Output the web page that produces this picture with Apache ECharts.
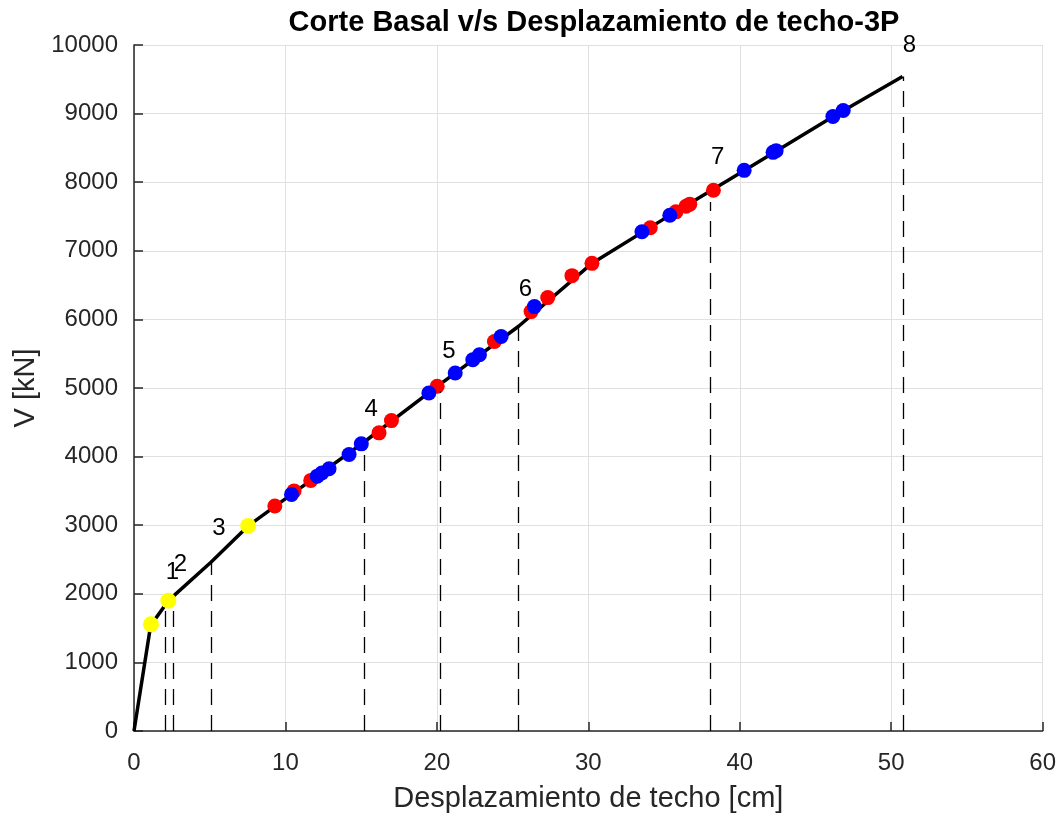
<!DOCTYPE html>
<html>
<head>
<meta charset="utf-8">
<script src="https://cdn.jsdelivr.net/npm/echarts@6/dist/echarts.min.js"></script>
<style>
html,body{margin:0;padding:0;background:#fff;}
#chart{width:1059px;height:818px;}
</style>
</head>
<body>
<div id="chart"></div>
<script>
// Pushover curve (displacement cm, base shear kN)
const curveX = [0, 1.1, 2.27, 5.08, 7.54, 10.4, 15.0, 20.0, 25.4, 30.2, 35.4, 40.3, 46.2, 50.75];
const curveY = [0, 1540, 1900, 2460, 2990, 3450, 4180, 5020, 5900, 6810, 7520, 8170, 8960, 9540];

// Yellow markers
const yellowX = [1.12, 2.27, 7.54];
const yellowY = [1555, 1900, 2990];

// Red markers
const redX = [9.30, 10.57, 11.67, 16.18, 17.0, 20.02, 23.80, 26.22, 27.32, 28.92, 30.24, 34.09, 35.78, 36.45, 36.70, 38.26];
const redY = [3280, 3500, 3653, 4346, 4525, 5025, 5678, 6114, 6318, 6638, 6817, 7335, 7568, 7650, 7680, 7882];

// Blue markers
const blueX = [10.40, 12.10, 12.40, 12.88, 14.20, 15.01, 19.47, 21.21, 22.37, 22.81, 24.24, 26.44, 33.54, 35.38, 40.29, 42.20, 42.40, 46.15, 46.83];
const blueY = [3449, 3715, 3760, 3823, 4031, 4186, 4927, 5218, 5411, 5484, 5751, 6187, 7277, 7519, 8173, 8435, 8460, 8958, 9045];

// Vertical dashed lines (performance points)
const dashX = [2.04, 2.57, 5.08, 15.23, 20.24, 25.38, 38.04, 50.77];
const dashTop = [1780, 1850, 2456, 4200, 4952, 5872, 7713, 9540];

// Point labels
const labelText = ['1', '2', '3', '4', '5', '6', '7', '8'];
const labelX = [2.54, 3.07, 5.60, 15.66, 20.80, 25.85, 38.54, 51.20];
const labelY = [2311, 2427, 2950, 4688, 5531, 6439, 8358, 9990];

// Axis ticks
const xTicks = [0, 10, 20, 30, 40, 50, 60];
const yTicks = [0, 1000, 2000, 3000, 4000, 5000, 6000, 7000, 8000, 9000, 10000];

const zip = (a, b) => a.map((v, i) => [v, b[i]]);
const FONT = 'Liberation Sans, Arial, Helvetica, sans-serif';
const AX = '#262626';

const chart = echarts.init(document.getElementById('chart'));
chart.setOption({
  backgroundColor: '#ffffff',
  animation: false,
  title: {
    text: 'Corte Basal v/s Desplazamiento de techo-3P',
    left: 589, textAlign: 'center', top: 3,
    textStyle: { fontFamily: FONT, fontSize: 29, fontWeight: 'bold', color: '#000' }
  },
  grid: { left: 134, right: 16, top: 45, bottom: 85 },
  xAxis: {
    type: 'value', min: xTicks[0], max: xTicks[xTicks.length - 1], interval: 10,
    name: 'Desplazamiento de techo [cm]', nameLocation: 'middle', nameGap: 53,
    nameTextStyle: { fontFamily: FONT, fontSize: 29, color: AX },
    axisLine: { show: true, onZero: false, lineStyle: { color: AX, width: 1.5 } },
    axisTick: { show: true, inside: true, length: 9, lineStyle: { color: AX, width: 1.5 } },
    axisLabel: { fontFamily: FONT, fontSize: 24, color: AX, margin: 20, formatter: v => String(v) },
    splitLine: { show: true, lineStyle: { color: '#e0e0e0', width: 1 } }
  },
  yAxis: {
    type: 'value', min: yTicks[0], max: yTicks[yTicks.length - 1], interval: 1000,
    name: 'V [kN]', nameLocation: 'middle', nameGap: 93,
    nameTextStyle: { fontFamily: FONT, fontSize: 29, color: AX },
    axisLine: { show: true, onZero: false, lineStyle: { color: AX, width: 1.5 } },
    axisTick: { show: true, inside: true, length: 9, lineStyle: { color: AX, width: 1.5 } },
    axisLabel: { fontFamily: FONT, fontSize: 24, color: AX, margin: 16, formatter: v => String(v) },
    splitLine: { show: true, lineStyle: { color: '#e0e0e0', width: 1 } }
  },
  series: [
    {
      type: 'line', data: zip(curveX, curveY), symbol: 'none', z: 3,
      lineStyle: { color: '#000', width: 3.5 },
      markLine: {
        silent: true, symbol: ['none', 'none'], label: { show: false },
        lineStyle: { color: '#000', width: 1.3, type: [16, 10] },
        data: dashX.map((x, i) => [{ coord: [x, 0] }, { coord: [x, dashTop[i]] }])
      }
    },
    {
      type: 'scatter', data: zip(yellowX, yellowY), symbol: 'circle', symbolSize: 16, z: 4,
      itemStyle: { color: '#ffff00', opacity: 1 }
    },
    {
      type: 'scatter', data: zip(redX, redY), symbol: 'circle', symbolSize: 15, z: 4,
      itemStyle: { color: '#ff0000', opacity: 1 }
    },
    {
      type: 'scatter', data: zip(blueX, blueY), symbol: 'circle', symbolSize: 15, z: 5,
      itemStyle: { color: '#0000ff', opacity: 1 }
    },
    {
      type: 'scatter', data: labelX.map((x, i) => ({ value: [x, labelY[i]], name: labelText[i] })),
      symbolSize: 0, z: 6, silent: true,
      itemStyle: { color: '#000', opacity: 1 },
      label: {
        show: true, position: 'inside', formatter: p => p.name,
        fontFamily: FONT, fontSize: 24, color: '#000', textBorderWidth: 0
      }
    }
  ]
});
</script>
</body>
</html>
